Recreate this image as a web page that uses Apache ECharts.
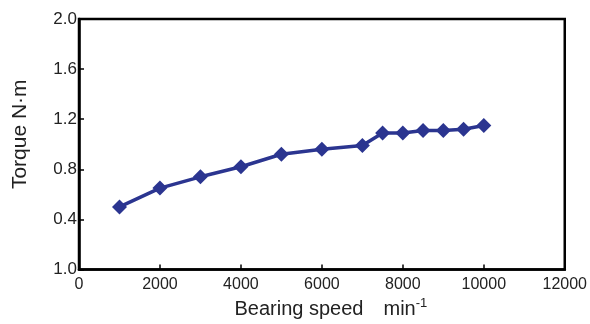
<!DOCTYPE html>
<html><head><meta charset="utf-8">
<script src="https://cdn.jsdelivr.net/npm/echarts@6/dist/echarts.min.js"></script>
<style>html,body{margin:0;padding:0;background:#fff}#c{width:590px;height:324px}</style>
</head><body><div id="c"></div>
<script>
const speeds = [1000, 2000, 3000, 4000, 5000, 6000, 7000, 7500, 8000, 8500, 9000, 9500, 10000];
const torque = [0.50, 0.65, 0.74, 0.82, 0.92, 0.96, 0.99, 1.09, 1.09, 1.11, 1.11, 1.12, 1.15];
const yTickLabels = {"0": "1.0", "0.4": "0.4", "0.8": "0.8", "1.2": "1.2", "1.6": "1.6", "2": "2.0"};
const xNameMain = "Bearing speed";
const xNameUnit = "min";
const xNameExp = "-1";
const yName = "Torque N\u00b7m";

const chart = echarts.init(document.getElementById('c'), null, {renderer: 'canvas'});
const font = 'Liberation Sans, Arial, Helvetica, sans-serif';
chart.setOption({
  animation: false,
  grid: {left: 79, right: 22, top: 19, bottom: 53, show: true, borderColor: '#000', borderWidth: 2.5, backgroundColor: 'transparent'},
  xAxis: {
    type: 'value', min: 0, max: 12000, interval: 2000,
    name: '{n|' + xNameMain + '}{g|}{n|' + xNameUnit + '}{s|' + xNameExp + '}',
    nameLocation: 'middle', nameGap: 27, nameMoveOverlap: false,
    nameTextStyle: {padding: [0, 0, 0, 18], rich: {
      n: {fontSize: 20, fontFamily: font, color: '#222'},
      g: {width: 20},
      s: {fontSize: 13, fontFamily: font, color: '#222', verticalAlign: 'top', padding: [0, 0, 12, 0]}}},
    axisLine: {show: true, lineStyle: {color: '#000', width: 2.5}},
    axisTick: {show: true, inside: true, length: 5, lineStyle: {color: '#000', width: 1.5}},
    axisLabel: {fontSize: 16, fontFamily: font, color: '#222', margin: 7, formatter: v => String(v)},
    splitLine: {show: false}
  },
  yAxis: {
    type: 'value', min: 0, max: 2, interval: 0.4,
    name: yName, nameLocation: 'middle', nameGap: 48, nameMoveOverlap: false,
    nameTextStyle: {fontSize: 21, fontFamily: font, color: '#222', padding: [0, 0, 0, 20]},
    axisLine: {show: true, lineStyle: {color: '#000', width: 2.5}},
    axisTick: {show: true, inside: true, length: 5, lineStyle: {color: '#000', width: 1.5}},
    axisLabel: {fontSize: 17, fontFamily: font, color: '#222', margin: 2,
      formatter: v => yTickLabels[String(Math.round(v*10)/10)] ?? v.toFixed(1)},
    splitLine: {show: false}
  },
  series: [{
    type: 'line',
    data: speeds.map((s, i) => [s, torque[i]]),
    symbol: 'diamond', symbolSize: 15,
    lineStyle: {color: '#2b3590', width: 3.5},
    itemStyle: {color: '#2b3590'}
  }]
});
</script></body></html>
